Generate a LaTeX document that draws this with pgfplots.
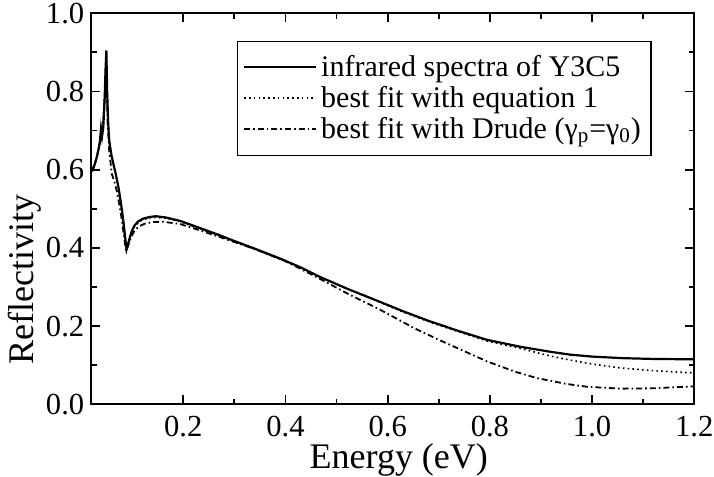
\documentclass[border=0pt]{standalone}
\usepackage{pgfplots}
\pgfplotsset{compat=1.18}
\usepackage{fontspec}
\setmainfont{Liberation Serif}
\begin{document}
\begin{tikzpicture}
\begin{axis}[
  scale only axis=true,
  width=301.5pt, height=195.5pt,
  xmin=0.02, xmax=1.2, ymin=0, ymax=1.0,
  xtick={0.2,0.4,0.6,0.8,1.0,1.2},
  ytick={0,0.2,0.4,0.6,0.8,1.0},
  minor x tick num=1, minor y tick num=1,
  tick align=inside,
  major tick length=4.5pt, minor tick length=2.8pt,
  every tick/.style={black, line width=0.9pt},
  axis line style={line width=1.2pt},
  /pgf/number format/assume math mode=true,
  /pgf/number format/.cd, fixed, fixed zerofill, precision=1, /pgfplots/.cd,
  tick label style={font=\fontsize{15.3}{17}\selectfont},
  xticklabel style={yshift=-2.5pt},
  xlabel={Energy (eV)},
  ylabel={Reflectivity},
  label style={font=\fontsize{18}{20}\selectfont},
  xlabel style={at={(axis description cs:0.51,0)}, anchor=base, yshift=-32.3pt},
  ylabel style={at={(axis description cs:-0.11,0.32)}, anchor=center, rotate=0},
  legend style={at={(axis description cs:0.241,0.93)}, anchor=north west,
    font=\fontsize{15}{16}\selectfont, draw=black, line width=0.6pt,
    inner xsep=3pt, inner ysep=5pt, row sep=-0.6pt},
  legend cell align=left,
  legend image code/.code={\draw[#1, line width=1pt] (0pt,0pt) -- (36pt,0pt);},
]
\addplot[black, line width=1.1pt] coordinates {
(0.020,0.595) (0.023,0.600) (0.027,0.615) (0.031,0.633) (0.035,0.658) (0.037,0.675)
(0.039,0.705) (0.041,0.685) (0.0435,0.709) (0.046,0.777) (0.048,0.86) (0.0495,0.905)
(0.051,0.80) (0.053,0.72) (0.055,0.675) (0.059,0.640) (0.063,0.616) (0.068,0.588)
(0.073,0.556) (0.078,0.515) (0.0826,0.470) (0.086,0.430) (0.089,0.396) (0.092,0.410)
(0.0957,0.428) (0.100,0.445) (0.105,0.458) (0.112,0.468) (0.122,0.475) (0.134,0.479)
(0.146,0.481) (0.165,0.478) (0.194,0.469) (0.23,0.452) (0.272,0.432) (0.291,0.422)
(0.34,0.398) (0.389,0.373) (0.43,0.350) (0.467,0.326) (0.52,0.296) (0.585,0.262)
(0.63,0.238) (0.683,0.212) (0.74,0.187) (0.794,0.165) (0.86,0.147) (0.92,0.134)
(0.957,0.127) (1.00,0.122) (1.06,0.118) (1.12,0.116) (1.20,0.115)
};
\addlegendentry{infrared spectra of Y3C5}
\addplot[black, line width=0.8pt, dash pattern=on 0.8pt off 1.6pt] coordinates {
(0.020,0.598) (0.025,0.608) (0.030,0.628) (0.035,0.655) (0.040,0.695) (0.044,0.74)
(0.047,0.81) (0.0495,0.895) (0.051,0.80) (0.053,0.72) (0.056,0.665) (0.060,0.635)
(0.065,0.603) (0.070,0.576) (0.075,0.540) (0.080,0.495) (0.085,0.435) (0.089,0.398)
(0.093,0.415) (0.098,0.437) (0.105,0.455) (0.115,0.468) (0.130,0.476) (0.146,0.478)
(0.170,0.475) (0.194,0.467) (0.23,0.450) (0.272,0.430) (0.34,0.397) (0.389,0.372)
(0.43,0.350) (0.467,0.326) (0.52,0.296) (0.585,0.261) (0.63,0.236) (0.683,0.210)
(0.74,0.185) (0.794,0.162) (0.859,0.143) (0.92,0.123) (0.957,0.113) (1.00,0.103)
(1.055,0.093) (1.12,0.086) (1.20,0.080)
};
\addlegendentry{best fit with equation 1}
\addplot[black, line width=0.9pt, dash pattern=on 3pt off 1.5pt on 0.8pt off 1.5pt] coordinates {
(0.020,0.598) (0.025,0.608) (0.030,0.628) (0.035,0.655) (0.040,0.69) (0.044,0.735)
(0.047,0.80) (0.049,0.87) (0.0505,0.80) (0.052,0.72) (0.055,0.65) (0.060,0.59)
(0.065,0.57) (0.070,0.545) (0.075,0.51) (0.080,0.47) (0.085,0.42) (0.088,0.392)
(0.092,0.405) (0.097,0.425) (0.104,0.443) (0.113,0.455) (0.125,0.462) (0.140,0.466)
(0.16,0.467) (0.194,0.461) (0.23,0.446) (0.28,0.424) (0.34,0.397) (0.40,0.366)
(0.46,0.326) (0.52,0.284) (0.585,0.242) (0.65,0.196) (0.70,0.165) (0.729,0.148)
(0.794,0.110) (0.85,0.083) (0.892,0.067) (0.95,0.052) (0.989,0.045) (1.055,0.040)
(1.12,0.041) (1.20,0.046)
};
\addlegendentry{best fit with Drude (γ\textsubscript{p}=γ\textsubscript{0})}
\end{axis}
\pgfresetboundingbox
\path (-45.65pt,-36pt) rectangle (311.35pt,202.15pt);
\end{tikzpicture}
\end{document}
